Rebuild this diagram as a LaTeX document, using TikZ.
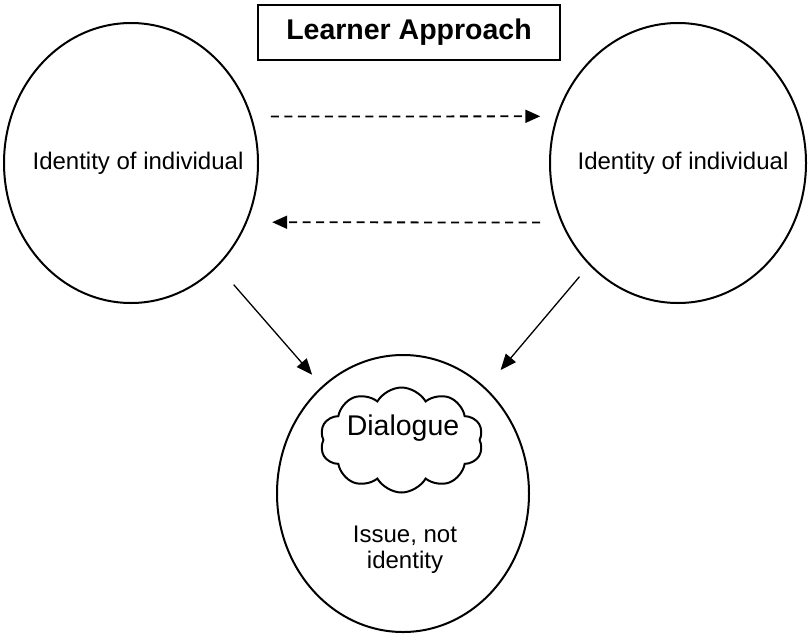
\documentclass[tikz,border=0pt]{standalone}
\usepackage{fontspec}
\setmainfont{Liberation Sans}
\usetikzlibrary{shapes.geometric,shapes.symbols,arrows.meta}
\begin{document}
\begin{tikzpicture}[x=1pt,y=-1pt,
  oval/.style={draw,line width=2pt,ellipse,inner sep=0pt},
  lbl/.style={font=\fontsize{24}{26}\selectfont,align=center,inner sep=0pt},
  dasharrow/.style={line width=1.8pt,dash pattern=on 8pt off 5.5pt,-{Triangle[length=15pt,width=13pt]}},
  solidarrow/.style={line width=1.3pt,-{Triangle[length=16pt,width=13pt]}}]
\useasboundingbox (0,0) rectangle (808,635);
\node[draw,line width=2pt,minimum width=302pt,minimum height=55pt,inner sep=0pt,
  font=\fontsize{28.5}{34}\selectfont\bfseries] (T) at (409,32.5) {Learner Approach};
\node[oval,minimum width=254pt,minimum height=280pt] (L) at (131,163) {};
\node[oval,minimum width=256pt,minimum height=280pt] (R) at (678,163) {};
\node[oval,minimum width=252pt,minimum height=277pt] (B) at (403,493.5) {};
\node[lbl] (Lt) at (138,163) {Identity of individual};
\node[lbl] (Rt) at (683,163) {Identity of individual};
\node[draw,line width=2pt,cloud,cloud puffs=10,cloud puff arc=120,aspect=1.55,
  minimum width=163pt,minimum height=105pt,inner sep=0pt] (C) at (401.5,440) {};
\node[font=\fontsize{28.5}{32}\selectfont,inner sep=0pt] (Ct) at (403,428) {Dialogue};
\node[lbl] (Bt) at (405,550) {Issue, not\\identity};
\draw[dasharrow,shorten <=19pt,shorten >=16pt] (L.21) -- (R.159);
\draw[dasharrow,shorten <=21pt,shorten >=25pt] (R.207) -- (L.-27);
\draw[solidarrow,shorten <=24pt,shorten >=15pt] (L.-50) -- (B.127);
\draw[solidarrow,shorten <=15pt,shorten >=23pt] (R.-131) -- (B.52);
\end{tikzpicture}
\end{document}
